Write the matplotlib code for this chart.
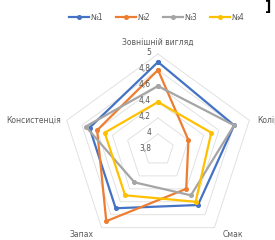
"""Radar chart of sensory scores for four samples."""

import numpy as np
import matplotlib

matplotlib.use("Agg")
import matplotlib.pyplot as plt

categories = ["Зовнішній вигляд", "Колір", "Смак", "Запах", "Консистенція"]
series_names = ["№1", "№2", "№3", "№4"]
sample_1 = [4.9, 4.8, 4.65, 4.7, 4.7]
sample_2 = [4.8, 4.2, 4.4, 4.9, 4.6]
sample_3 = [4.6, 4.8, 4.5, 4.3, 4.75]
sample_4 = [4.4, 4.5, 4.6, 4.5, 4.5]
tick_values = [3.8, 4.0, 4.2, 4.4, 4.6, 4.8, 5.0]
tick_labels = ["3,8", "4", "4,2", "4,4", "4,6", "4,8", "5"]

colors = ["#4472C4", "#ED7D31", "#A5A5A5", "#FFC000"]
text_color = "#595959"
grid_color = "#DDDDDD"

plt.rcParams["font.family"] = ["DejaVu Sans"]

W, H = 275, 240
fig = plt.figure(figsize=(W / 100, H / 100), dpi=100)

# centre and outer radius of the radar in pixels
cx, cy, R = 158, 150, 96
ax = fig.add_axes(
    [(cx - R) / W, (H - cy - R) / H, 2 * R / W, 2 * R / H], projection="polar"
)
ax.set_theta_zero_location("N")
ax.set_theta_direction(-1)
ax.set_ylim(tick_values[0], tick_values[-1])
ax.grid(False)
ax.set_xticks([])
ax.set_yticks([])
ax.spines["polar"].set_visible(False)
ax.patch.set_visible(False)

n = len(categories)
angles = np.linspace(0, 2 * np.pi, n, endpoint=False)
closed = np.append(angles, angles[0])

# pentagon grid
for level in tick_values[1:]:
    ax.plot(closed, [level] * (n + 1), color=grid_color, lw=0.6, zorder=1, clip_on=False)

for name, vals, c in zip(series_names, [sample_1, sample_2, sample_3, sample_4], colors):
    ax.plot(closed, vals + vals[:1], color=c, lw=1.6, marker="o", ms=2.6,
            label=name, zorder=3, clip_on=False)

# value labels along the vertical axis
for v, lab in zip(tick_values, tick_labels):
    ax.annotate(lab, xy=(0, v), xytext=(-5, 1), textcoords="offset points",
                ha="right", va="center", fontsize=5.5, color=text_color)

# category labels
offsets = [(0, 5), (6, 0), (6, -2), (-6, -2), (-4, 0)]
aligns = [("center", "bottom"), ("left", "center"), ("left", "top"),
          ("right", "top"), ("right", "center")]
for ang, cat, off, (ha, va) in zip(angles, categories, offsets, aligns):
    ax.annotate(cat, xy=(ang, tick_values[-1]), xytext=off, textcoords="offset points",
                ha=ha, va=va, fontsize=5.5, color=text_color)

fig.legend(loc="center", bbox_to_anchor=(157 / W, 1 - 17 / H), ncol=4, frameon=False,
           fontsize=5.5, handlelength=2.6, columnspacing=1.6, handletextpad=0.3,
           labelcolor=text_color)

fig.text(0.985, 1.0, "]", ha="right", va="top", fontsize=10, fontweight="bold", color="black")

fig.savefig("out.png", dpi=100)
